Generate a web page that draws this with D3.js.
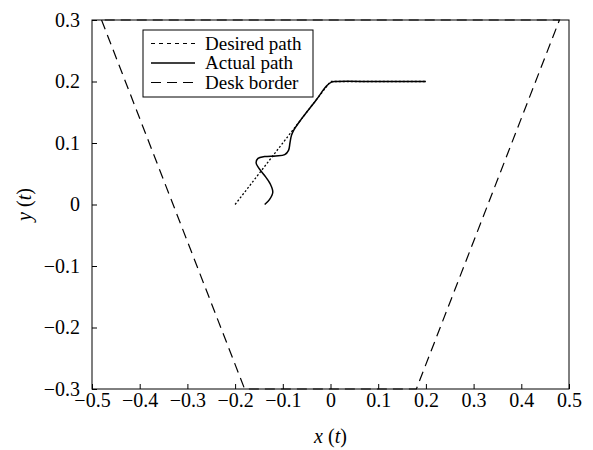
<!DOCTYPE html>
<html>
<head>
<meta charset="utf-8">
<script src="https://cdn.jsdelivr.net/npm/d3@7"></script>
<style>
  body { margin: 0; background: #fff; }
  svg text { font-family: "Liberation Serif", "Times New Roman", serif; fill: #000; }
</style>
</head>
<body>
<svg id="chart" width="593" height="450"></svg>
<script>
// data
const xTicks = [-0.5, -0.4, -0.3, -0.2, -0.1, 0, 0.1, 0.2, 0.3, 0.4, 0.5];
const yTicks = [-0.3, -0.2, -0.1, 0, 0.1, 0.2, 0.3];

const desiredPath = [[-0.2, 0], [0, 0.2], [0.2, 0.2]];

const actualPath = [
    [-0.138, 0.000], [-0.128, 0.008], [-0.121, 0.020], [-0.126, 0.033],
    [-0.139, 0.048], [-0.151, 0.060], [-0.156, 0.068], [-0.152, 0.075],
    [-0.138, 0.078], [-0.115, 0.079], [-0.096, 0.081], [-0.088, 0.088],
    [-0.085, 0.100], [-0.082, 0.112], [-0.077, 0.121], [-0.060, 0.140],
    [-0.030, 0.170], [-0.008, 0.193], [0.002, 0.199], [0.012, 0.200],
    [0.1, 0.200], [0.2, 0.200]
];

const deskBorder = [[-0.48, 0.3], [-0.18, -0.3], [0.18, -0.3], [0.48, 0.3], [-0.48, 0.3]];

const legendItems = [
    {label: 'Desired path', dash: '4,4'},
    {label: 'Actual path', dash: null},
    {label: 'Desk border', dash: '10,6'}
];

const sizes = {left: 92, right: 569, top: 20, bottom: 389};

const svg = d3.select('#chart');

const xScale = d3.scaleLinear().domain([-0.5, 0.5]).range([sizes.left, sizes.right]);
const yScale = d3.scaleLinear().domain([-0.3, 0.3]).range([sizes.bottom, sizes.top]);

const fmt = d => d === 0 ? '0' : d3.format('.1f')(d);

const line = d3.line().x(d => xScale(d[0])).y(d => yScale(d[1]));

// clip so the border dashes stay in the frame
svg.append('clipPath').attr('id', 'clip')
    .append('rect')
        .attr('x', sizes.left).attr('y', sizes.top - 1)
        .attr('width', sizes.right - sizes.left)
        .attr('height', sizes.bottom - sizes.top + 2);

const plot = svg.append('g').attr('clip-path', 'url(#clip)');

plot.append('path')
    .datum(deskBorder)
    .attr('d', line)
    .attr('fill', 'none')
    .attr('stroke', '#000')
    .attr('stroke-width', 1.2)
    .attr('stroke-dasharray', '10,6');

plot.append('path')
    .datum(desiredPath)
    .attr('d', line)
    .attr('fill', 'none')
    .attr('stroke', '#000')
    .attr('stroke-width', 1.3)
    .attr('stroke-dasharray', '2,2');

plot.append('path')
    .datum(actualPath)
    .attr('d', line.curve(d3.curveCatmullRom))
    .attr('fill', 'none')
    .attr('stroke', '#000')
    .attr('stroke-width', 1.5);

// frame
svg.append('rect')
    .attr('x', sizes.left).attr('y', sizes.top)
    .attr('width', sizes.right - sizes.left)
    .attr('height', sizes.bottom - sizes.top)
    .attr('fill', 'none')
    .attr('stroke', '#000')
    .attr('stroke-width', 1);

const xAxis = d3.axisBottom(xScale).tickValues(xTicks).tickFormat(fmt)
    .tickSizeInner(-5).tickSizeOuter(0).tickPadding(4);
svg.append('g')
    .classed('axis x-axis', true)
    .attr('transform', `translate(0, ${sizes.bottom})`)
    .call(xAxis);

const yAxis = d3.axisLeft(yScale).tickValues(yTicks).tickFormat(fmt)
    .tickSizeInner(-5).tickSizeOuter(0).tickPadding(12);
svg.append('g')
    .classed('axis y-axis', true)
    .attr('transform', `translate(${sizes.left}, 0)`)
    .call(yAxis);

svg.selectAll('.axis .domain').remove();
svg.selectAll('.axis')
    .attr('font-size', 20)
    .attr('font-family', '"Liberation Serif", serif');
svg.selectAll('.axis text').attr('font-size', 20);
svg.selectAll('.axis line').attr('stroke', '#000');

// axis titles
const xTitle = svg.append('text')
    .attr('x', xScale(0)).attr('y', 443)
    .attr('text-anchor', 'middle')
    .attr('font-size', 20);
xTitle.append('tspan').attr('font-style', 'italic').text('x');
xTitle.append('tspan').text(' (');
xTitle.append('tspan').attr('font-style', 'italic').text('t');
xTitle.append('tspan').text(')');

const yTitle = svg.append('text')
    .attr('transform', `translate(31, ${yScale(0)}) rotate(-90)`)
    .attr('text-anchor', 'middle')
    .attr('font-size', 20);
yTitle.append('tspan').attr('font-style', 'italic').text('y');
yTitle.append('tspan').text(' (');
yTitle.append('tspan').attr('font-style', 'italic').text('t');
yTitle.append('tspan').text(')');

// legend
const legend = svg.append('g').attr('transform', 'translate(143, 30)');
legend.append('rect')
    .attr('width', 170).attr('height', 67)
    .attr('fill', '#fff')
    .attr('stroke', '#000')
    .attr('stroke-width', 1);

const rows = legend.selectAll('.legend-row')
    .data(legendItems)
    .enter()
    .append('g')
        .classed('legend-row', true)
        .attr('transform', (d, i) => `translate(0, ${13.5 + i * 19.5})`);

rows.append('line')
    .attr('x1', 8).attr('x2', 52)
    .attr('stroke', '#000')
    .attr('stroke-width', d => d.dash ? 1.2 : 1.5)
    .attr('stroke-dasharray', d => d.dash);

rows.append('text')
    .attr('x', 62).attr('y', 6)
    .attr('font-size', 19)
    .text(d => d.label);
</script>
</body>
</html>
